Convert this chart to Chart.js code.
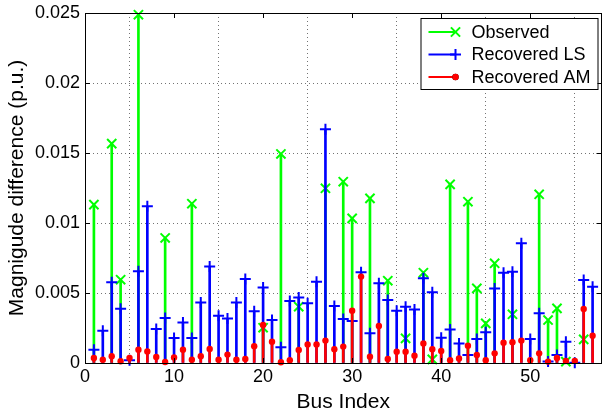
<!DOCTYPE html>
<html><head><meta charset="utf-8">
<script src="https://cdn.jsdelivr.net/npm/chart.js@4.4.0/dist/chart.umd.min.js"></script>
<style>html,body{margin:0;padding:0;background:#fff;}#wrap{width:610px;height:415px;position:relative;}</style>
</head><body><div id="wrap"><canvas id="c"></canvas></div>
<script>
const buses = [1,2,3,4,5,6,7,8,9,10,11,12,13,14,15,16,17,18,19,20,21,22,23,24,25,26,27,28,29,30,31,32,33,34,35,36,37,38,39,40,41,42,43,44,45,46,47,48,49,50,51,52,53,54,55,56,57];
const observed = [0.01131,null,0.01567,0.00595,null,0.02488,null,null,0.00893,null,null,0.01138,null,null,null,null,null,null,null,0.00252,null,0.01493,null,0.00402,null,null,0.01248,null,0.01295,0.01033,null,0.01176,null,0.00588,null,0.00176,null,0.00645,0.00026,null,0.01276,null,0.01152,0.00533,0.00283,0.00712,null,0.00348,null,null,0.01205,0.00307,0.0039,0.0001,null,0.00169,null];
const recoveredLS = [0.00095,0.0023,0.00576,0.00388,0.0002,0.00655,0.01119,0.00243,0.00321,0.00179,0.0029,0.00179,0.00433,0.0069,0.00338,0.00317,0.00433,0.006,0.0037,0.0054,0.00307,0.00112,0.00443,0.00467,0.00426,0.00581,0.01669,0.00407,0.00314,0.003,0.00648,0.00212,0.00569,0.0045,0.00374,0.00402,0.00383,0.00605,0.00505,0.00181,0.0024,0.0014,0.00057,0.00171,0.00219,0.00533,0.00645,0.00652,0.00855,0.00171,0.00355,0.0001,0.00057,0.00152,0.00002,0.00593,0.00545];
const recoveredAM = [0.00036,0.00024,0.00048,0.00012,0.00036,0.00095,0.00083,0.00043,0.00007,0.0004,0.00095,0.00024,0.00048,0.001,0.00024,0.0006,0.00024,0.00029,0.0012,0.00271,0.00152,0.00005,0.0002,0.00093,0.00133,0.00133,0.0016,0.00098,0.00117,0.00374,0.00617,0.00045,0.00264,0.00029,0.00081,0.00081,0.00052,0.0014,0.00098,0.00086,0.0002,0.00033,0.00124,0.00057,0.0002,0.00069,0.00145,0.00148,0.0016,0.0002,0.00069,0.0001,0.00036,0.00014,0.00014,0.00386,0.00195];
const seriesNames = ['Observed','Recovered LS','Recovered AM'];
const xTickValues = [0,10,20,30,40,50];
const yTickValues = [0,0.005,0.01,0.015,0.02,0.025];
const yTickLabels = ['0','0.005','0.01','0.015','0.02','0.025'];
const xTitle = 'Bus Index';
const yTitle = 'Magnigude difference (p.u.)';

const FONT = "'Liberation Sans', Arial, Helvetica, sans-serif";
const colors = ['#00ff00','#0000ff','#ff0000'];
const styles = [
  {pointStyle:'crossRot', pointRadius:6.5, borderWidth:2, fill:false},
  {pointStyle:'cross', pointRadius:5.5, borderWidth:2, fill:false},
  {pointStyle:'circle', pointRadius:3.2, borderWidth:0, fill:true}
];
const seriesValues = [observed, recoveredLS, recoveredAM];
function pts(vals){ return buses.map((b,i)=>({x:b,y:vals[i]})); }

const datasets = [];
seriesValues.forEach((vals,k)=>{
  const base = (2-k)*2;
  datasets.push({type:'bar', label:seriesNames[k], stem:true, data:pts(vals), backgroundColor:colors[k], borderWidth:0, barThickness:2, grouped:false, order:base+1});
  const st = styles[k];
  datasets.push({type:'scatter', label:seriesNames[k], marker:true, data:pts(vals), showLine:false, clip:false,
    pointStyle:st.pointStyle, pointRadius:st.pointRadius, pointHoverRadius:st.pointRadius,
    borderColor:colors[k], backgroundColor:st.fill?colors[k]:'rgba(0,0,0,0)', pointBorderWidth:st.borderWidth, borderWidth:st.borderWidth, order:base});
});

const framePlugin = {
  id:'frame',
  afterDatasetsDraw(chart){
    const {ctx, chartArea:ca, scales} = chart;
    ctx.save();
    ctx.strokeStyle = '#000'; ctx.lineWidth = 1;
    ctx.strokeRect(Math.round(ca.left)+0.5, Math.round(ca.top)+0.5, Math.round(ca.right-ca.left)-1, Math.round(ca.bottom-ca.top));
    const L = 5;
    ctx.beginPath();
    xTickValues.forEach(v=>{ const px = Math.round(scales.x.getPixelForValue(v))+0.5;
      ctx.moveTo(px, ca.bottom); ctx.lineTo(px, ca.bottom-L);
      ctx.moveTo(px, ca.top); ctx.lineTo(px, ca.top+L); });
    yTickValues.forEach(v=>{ const py = Math.round(scales.y.getPixelForValue(v))+0.5;
      ctx.moveTo(ca.left, py); ctx.lineTo(ca.left+L, py);
      ctx.moveTo(ca.right, py); ctx.lineTo(ca.right-L, py); });
    ctx.stroke();
    ctx.restore();
  },
  afterDraw(chart){
    const {ctx, chartArea:ca} = chart;
    const items = chart.data.datasets.filter(d=>d.marker);
    const w = 177, h = 71;
    const left = ca.right - 181, top = ca.top + 5;
    ctx.save();
    ctx.fillStyle = '#fff';
    ctx.fillRect(left, top, w, h);
    ctx.strokeStyle = '#000'; ctx.lineWidth = 1;
    ctx.strokeRect(left+0.5, top+0.5, w, h);
    items.forEach((d,i)=>{
      const y = top + 14 + i*22.5;
      ctx.strokeStyle = d.borderColor; ctx.lineWidth = 2;
      ctx.beginPath(); ctx.moveTo(left+8, y); ctx.lineTo(left+35, y); ctx.stroke();
      Chart.helpers.drawPoint(ctx, {pointStyle:d.pointStyle, radius:d.pointRadius, borderWidth:d.borderWidth, rotation:0}, left+35, y);
      if (d.pointStyle==='circle'){ ctx.fillStyle = d.backgroundColor; ctx.beginPath(); ctx.arc(left+35,y,d.pointRadius,0,Math.PI*2); ctx.fill(); }
      ctx.fillStyle = '#000';
      ctx.font = '18px ' + FONT;
      ctx.textBaseline = 'middle'; ctx.textAlign = 'left';
      ctx.fillText(d.label, left+51, y+1);
    });
    ctx.restore();
  }
};

new Chart(document.getElementById('c'), {
  type:'scatter',
  data:{datasets},
  options:{
    responsive:true, maintainAspectRatio:false, animation:false,
    layout:{padding:{top:13,right:2,left:0,bottom:0}},
    plugins:{legend:{display:false}, tooltip:{enabled:false}},
    events:[],
    scales:{
      x:{type:'linear', min:0, max:58, offset:false,
        afterBuildTicks(s){ s.ticks = xTickValues.map(v=>({value:v})); },
        afterFit(s){ s.height = 52; s.paddingLeft = 0; s.paddingRight = 0; },
        ticks:{color:'#000', font:{family:FONT,size:18}, padding:3, maxRotation:0, callback:(v)=>String(v)},
        grid:{color:'rgba(0,0,0,0.55)', drawTicks:false, lineWidth:1},
        border:{display:false, dash:[1,3]},
        title:{display:true, text:xTitle, color:'#000', font:{family:FONT,size:21}, padding:{top:0,bottom:0}}
      },
      y:{type:'linear', min:0, max:0.025,
        afterBuildTicks(s){ s.ticks = yTickValues.map(v=>({value:v})); },
        afterFit(s){ s.width = 85; s.paddingTop = 0; s.paddingBottom = 0; },
        ticks:{color:'#000', font:{family:FONT,size:18}, padding:5, callback:(v,i)=>yTickLabels[i]},
        grid:{color:'rgba(0,0,0,0.55)', drawTicks:false, lineWidth:1},
        border:{display:false, dash:[1,3]},
        title:{display:true, text:yTitle, color:'#000', font:{family:FONT,size:21}, padding:{top:5,bottom:0}}
      }
    }
  },
  plugins:[framePlugin]
});
</script></body></html>
